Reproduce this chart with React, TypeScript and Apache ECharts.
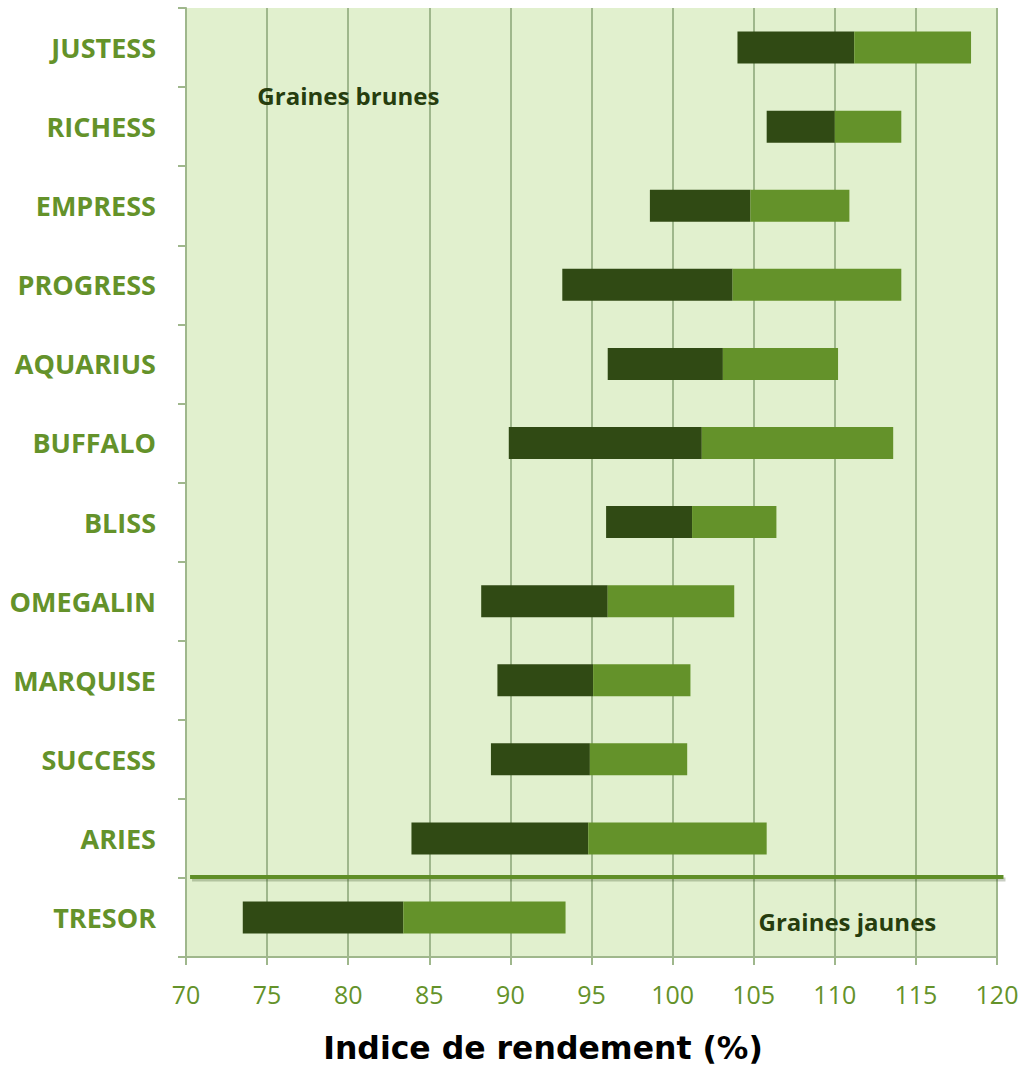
import React, { useEffect, useRef } from "react";
import * as echarts from "echarts";

const categories = ["JUSTESS", "RICHESS", "EMPRESS", "PROGRESS", "AQUARIUS", "BUFFALO", "BLISS", "OMEGALIN", "MARQUISE", "SUCCESS", "ARIES", "TRESOR"];
const lowValues = [104.0, 105.8, 98.6, 93.2, 96.0, 89.9, 95.9, 88.2, 89.2, 88.8, 83.9, 73.5];
const midValues = [111.2, 110.0, 104.8, 103.7, 103.1, 101.8, 101.2, 96.0, 95.1, 94.9, 94.8, 83.4];
const highValues = [118.4, 114.1, 110.9, 114.1, 110.2, 113.6, 106.4, 103.8, 101.1, 100.9, 105.8, 93.4];
const xTicks = [70, 75, 80, 85, 90, 95, 100, 105, 110, 115, 120];

const GREEN = "#64922A";
const DARK = "#304A14";
const GRIDC = "#9FB78C";
const FONT = "'Open Sans', Lato, sans-serif";

export default function App() {
  const ref = useRef<HTMLDivElement>(null);
  useEffect(() => {
    if (!ref.current) return;
    const chart = echarts.init(ref.current, undefined, { renderer: "svg" });
    const r1 = (v: number) => Math.round(v * 100) / 100;
    chart.setOption({
      animation: false,
      grid: { left: 186, right: 27, top: 8, bottom: 113, show: true, backgroundColor: "#E1F0CE", borderWidth: 0 },
      xAxis: {
        type: "value",
        min: xTicks[0],
        max: xTicks[xTicks.length - 1],
        interval: 5,
        axisLine: { show: true, lineStyle: { color: GRIDC, width: 2 } },
        axisTick: { show: true, length: 8, lineStyle: { color: GRIDC, width: 2 } },
        axisLabel: { color: GREEN, fontSize: 25, margin: 24, fontFamily: FONT },
        splitLine: { show: true, lineStyle: { color: GRIDC, width: 2 } },
      },
      yAxis: {
        type: "category",
        data: categories,
        inverse: true,
        axisLine: { show: true, lineStyle: { color: GRIDC, width: 2 } },
        axisTick: { show: true, length: 8, lineStyle: { color: GRIDC, width: 2 } },
        axisLabel: { color: GREEN, fontSize: 27, fontWeight: "bold", margin: 30, fontFamily: FONT },
        splitLine: { show: false },
      },
      series: [
        { type: "bar", stack: "s", data: lowValues, barWidth: 32, itemStyle: { color: "transparent" }, silent: true },
        { type: "bar", stack: "s", data: midValues.map((m, i) => r1(m - lowValues[i])), barWidth: 32, itemStyle: { color: DARK } },
        { type: "bar", stack: "s", data: highValues.map((h, i) => r1(h - midValues[i])), barWidth: 32, itemStyle: { color: GREEN } },
      ],
    });
    const yA = chart.convertToPixel({ yAxisIndex: 0 }, "ARIES") as number;
    const yT = chart.convertToPixel({ yAxisIndex: 0 }, "TRESOR") as number;
    const yR = chart.convertToPixel({ yAxisIndex: 0 }, "RICHESS") as number;
    const sepY = (yA + yT) / 2 - 1;
    const x1 = chart.convertToPixel({ xAxisIndex: 0 }, 70.25) as number;
    const x2 = chart.convertToPixel({ xAxisIndex: 0 }, 120.4) as number;
    const xb = chart.convertToPixel({ xAxisIndex: 0 }, 74.4) as number;
    const xj = chart.convertToPixel({ xAxisIndex: 0 }, 105.3) as number;
    chart.setOption({
      graphic: [
        {
          type: "line",
          shape: { x1: x1 + 2, y1: sepY + 2.5, x2: x2 + 2, y2: sepY + 2.5 },
          style: { stroke: "rgba(40,60,20,0.25)", lineWidth: 4 },
          z: 99,
        },
        {
          type: "line",
          shape: { x1, y1: sepY, x2, y2: sepY },
          style: { stroke: "#5F8E27", lineWidth: 4 },
          z: 100,
        },
        {
          type: "text",
          x: xb,
          y: yR - 31,
          style: { text: "Graines brunes", fill: "#263D0E", font: `bold 24px ${FONT}`, textVerticalAlign: "middle" },
          z: 100,
        },
        {
          type: "text",
          x: xj,
          y: yT + 4,
          style: { text: "Graines jaunes", fill: "#263D0E", font: `bold 24px ${FONT}`, textVerticalAlign: "middle" },
          z: 100,
        },
        {
          type: "text",
          x: 543,
          y: 1048,
          style: { text: "Indice de rendement (%)", fill: "#000", font: "bold 31.5px 'DejaVu Sans', sans-serif", textAlign: "center", textVerticalAlign: "middle" },
          z: 100,
        },
      ],
    });
    return () => chart.dispose();
  }, []);
  return <div ref={ref} style={{ width: 1024, height: 1070, position: "absolute", left: 0, top: 0 }} />;
}
